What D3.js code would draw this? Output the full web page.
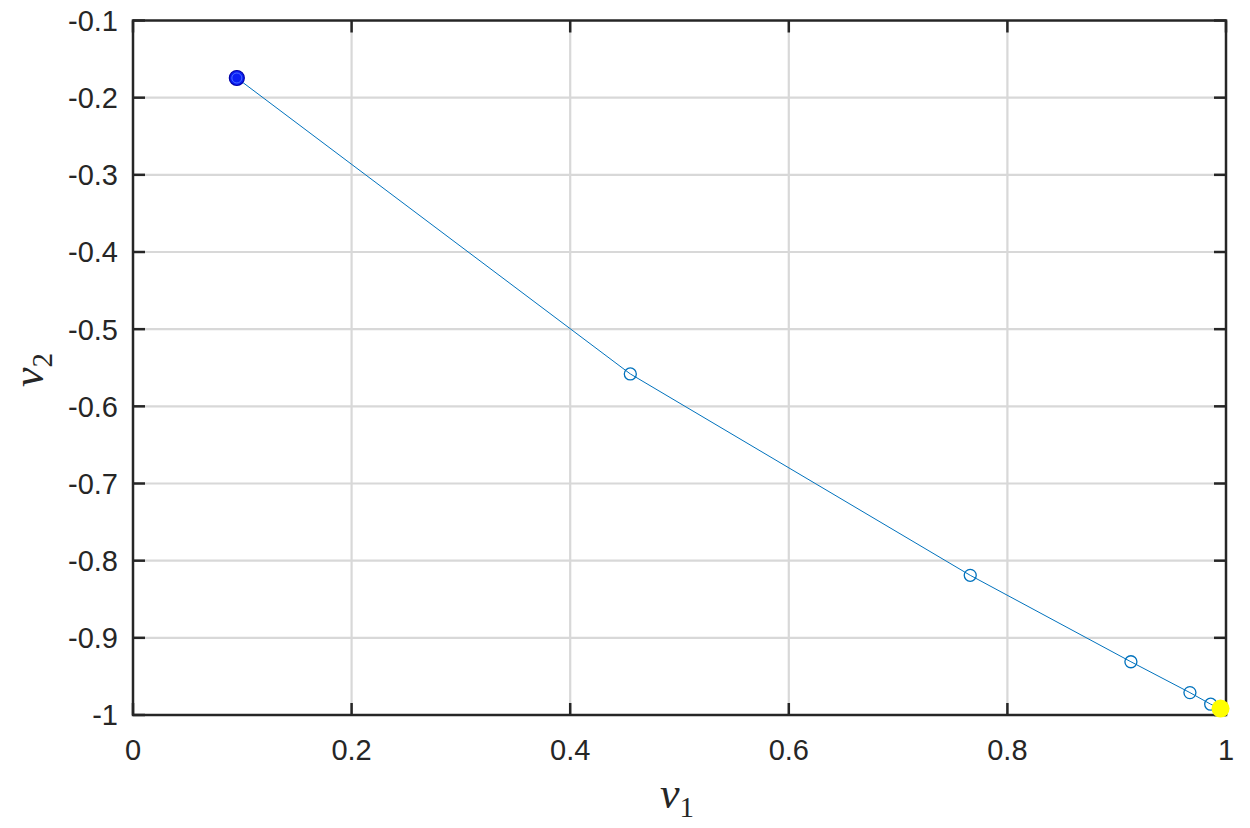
<!DOCTYPE html>
<html><head><meta charset="utf-8">
<script src="https://cdn.jsdelivr.net/npm/d3@7"></script>
<style>body{margin:0;background:#fff}svg{display:block}</style>
</head><body>
<svg id="c" width="1250" height="828"></svg>
<script>
const v1 = [0.095, 0.455, 0.766, 0.913, 0.967, 0.986, 0.995];
const v2 = [-0.1745, -0.558, -0.819, -0.931, -0.971, -0.986, -0.9916];
const xTicks = [0, 0.2, 0.4, 0.6, 0.8, 1];
const xTickLabels = ["0", "0.2", "0.4", "0.6", "0.8", "1"];
const yTicks = [-1, -0.9, -0.8, -0.7, -0.6, -0.5, -0.4, -0.3, -0.2, -0.1];
const yTickLabels = ["-1", "-0.9", "-0.8", "-0.7", "-0.6", "-0.5", "-0.4", "-0.3", "-0.2", "-0.1"];

const svg = d3.select("#c");
const L = 133, R = 1226, T = 20.5, B = 715;
const x = d3.scaleLinear().domain([0, 1]).range([L, R]);
const y = d3.scaleLinear().domain([-1, -0.1]).range([B, T]);
const font = "'Liberation Sans', Arial, Helvetica, sans-serif";
const axisColor = "#262626";

// grid
const g = svg.append("g");
g.selectAll(".gx").data(xTicks.slice(1, -1)).join("line")
  .attr("x1", d => x(d)).attr("x2", d => x(d)).attr("y1", T).attr("y2", B)
  .attr("stroke", "#d8d8d8").attr("stroke-width", 2.2);
g.selectAll(".gy").data(yTicks.slice(1, -1)).join("line")
  .attr("y1", d => y(d)).attr("y2", d => y(d)).attr("x1", L).attr("x2", R)
  .attr("stroke", "#d8d8d8").attr("stroke-width", 2.2);

// line & markers
const pts = v1.map((d, i) => [d, v2[i]]);
svg.append("path").datum(pts)
  .attr("d", d3.line().x(d => x(d[0])).y(d => y(d[1])))
  .attr("fill", "none").attr("stroke", "#0072BD").attr("stroke-width", 1);
svg.selectAll(".m").data(pts).join("circle")
  .attr("cx", d => x(d[0])).attr("cy", d => y(d[1])).attr("r", 6)
  .attr("fill", "none").attr("stroke", "#0072BD").attr("stroke-width", 1.3);

// axes box with inward ticks on all sides
const ax = svg.append("g");
const tl = 12;
xTicks.forEach(t => {
  ax.append("line").attr("x1", x(t)).attr("x2", x(t)).attr("y1", B).attr("y2", B - tl).attr("stroke", axisColor).attr("stroke-width", 2.5);
  ax.append("line").attr("x1", x(t)).attr("x2", x(t)).attr("y1", T).attr("y2", T + tl).attr("stroke", axisColor).attr("stroke-width", 2.5);
});
yTicks.forEach(t => {
  ax.append("line").attr("y1", y(t)).attr("y2", y(t)).attr("x1", L).attr("x2", L + tl).attr("stroke", axisColor).attr("stroke-width", 2.5);
  ax.append("line").attr("y1", y(t)).attr("y2", y(t)).attr("x1", R).attr("x2", R - tl).attr("stroke", axisColor).attr("stroke-width", 2.5);
});
ax.append("rect").attr("x", L).attr("y", T).attr("width", R - L).attr("height", B - T)
  .attr("fill", "none").attr("stroke", axisColor).attr("stroke-width", 2.5);

// start & end points (drawn on top)
const first = pts[0], last = pts[pts.length - 1];
svg.append("circle").attr("cx", x(first[0])).attr("cy", y(first[1])).attr("r", 7.5)
  .attr("fill", "#0a1ff5").attr("stroke", "#0000a8").attr("stroke-width", 1.2);
svg.append("circle").attr("cx", x(first[0])).attr("cy", y(first[1])).attr("r", 5)
  .attr("fill", "none").attr("stroke", "#4a6cff").attr("stroke-width", 1);
svg.append("circle").attr("cx", x(last[0])).attr("cy", y(last[1])).attr("r", 9)
  .attr("fill", "#ffff00");

// tick labels
svg.selectAll(".xl").data(xTicks).join("text")
  .attr("x", d => x(d)).attr("y", 760).attr("text-anchor", "middle")
  .attr("font-family", font).attr("font-size", 29).attr("fill", axisColor)
  .text((d, i) => xTickLabels[i]);
svg.selectAll(".yl").data(yTicks).join("text")
  .attr("x", 118).attr("y", d => y(d)).attr("dy", "0.36em").attr("text-anchor", "end")
  .attr("font-family", font).attr("font-size", 29).attr("fill", axisColor)
  .text((d, i) => yTickLabels[i]);

// axis labels (math italic)
const serif = "'Liberation Serif', 'Times New Roman', serif";
const xl = svg.append("text").attr("x", 677).attr("y", 808).attr("text-anchor", "middle")
  .attr("font-family", serif).attr("fill", axisColor);
xl.append("tspan").attr("font-style", "italic").attr("font-size", 44).text("v");
xl.append("tspan").attr("font-size", 29).attr("dy", 9).text("1");

const yl = svg.append("text").attr("transform", "translate(43,370) rotate(-90)").attr("text-anchor", "middle")
  .attr("font-family", serif).attr("fill", axisColor);
yl.append("tspan").attr("font-style", "italic").attr("font-size", 44).text("v");
yl.append("tspan").attr("font-size", 29).attr("dy", 9).text("2");
</script>
</body></html>
